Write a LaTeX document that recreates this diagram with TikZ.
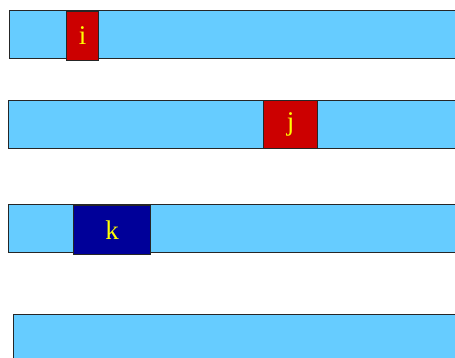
\documentclass[tikz,border=0pt]{standalone}
\usepackage{fontspec}
\setmainfont{Liberation Serif}
\usepackage{xcolor}
\definecolor{barblue}{HTML}{66CCFF}
\definecolor{cellred}{HTML}{CC0000}
\definecolor{cellnavy}{HTML}{000099}
\definecolor{celltext}{HTML}{FFFF00}
\usetikzlibrary{positioning}

\begin{document}
\begin{tikzpicture}[
  x=1pt, y=-1pt,
  font=\fontsize{27}{29}\selectfont,
  bar/.style={draw=black!85, line width=1pt, fill=barblue, anchor=north west, inner sep=0pt, minimum width=470pt, minimum height=48pt},
  cell/.style={draw=black!85, line width=1pt, anchor=north west, inner sep=0pt, text=celltext, minimum height=48pt},
]
\useasboundingbox (0,0) rectangle (455,358);
\clip (0,0) rectangle (455,358);

% Bars
\node[bar] (bari) at (9,10) {};
\node[bar] (barj) at (8,100) {};
\node[bar] (bark) at (8,204) {};
\node[bar, minimum height=60pt] (barl) at (13,314) {};

% Cells
\node[cell, fill=cellred, minimum width=32pt, minimum height=49pt] (celli) at (66,11) {i};
\node[cell, fill=cellred, minimum width=54pt] (cellj) at (263,100) {j};
\node[cell, fill=cellnavy, minimum width=77pt, minimum height=49pt] (cellk) at (73,205) {k};
\end{tikzpicture}
\end{document}
